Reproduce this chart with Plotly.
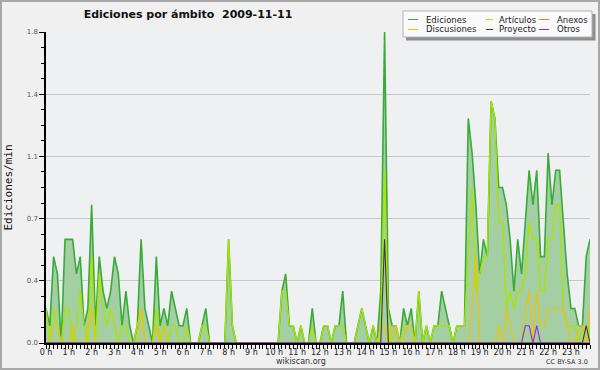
import plotly.graph_objects as go

# 10-minute slots over the day (6 per hour), values in edits/min
hour_labels = [f"{h} h" for h in range(24)]
slots = list(range(144))

ediciones = [
    0.2, 0.1, 0.5, 0.4, 0.0, 0.6,   # 0 h
    0.6, 0.6, 0.4, 0.5, 0.1, 0.2,   # 1 h
    0.8, 0.1, 0.5, 0.3, 0.2, 0.3,   # 2 h
    0.5, 0.4, 0.1, 0.3, 0.1, 0.0,   # 3 h
    0.1, 0.6, 0.2, 0.1, 0.0, 0.5,   # 4 h
    0.1, 0.2, 0.1, 0.3, 0.2, 0.1,   # 5 h
    0.1, 0.2, 0.0, 0.0, 0.0, 0.1,   # 6 h
    0.2, 0.0, 0.0, 0.0, 0.0, 0.0,   # 7 h
    0.6, 0.1, 0.0, 0.0, 0.0, 0.0,   # 8 h
    0.0, 0.0, 0.0, 0.0, 0.0, 0.0,   # 9 h
    0.0, 0.0, 0.3, 0.4, 0.1, 0.1,   # 10 h
    0.0, 0.1, 0.0, 0.0, 0.2, 0.0,   # 11 h
    0.0, 0.1, 0.1, 0.0, 0.1, 0.1,   # 12 h
    0.3, 0.0, 0.0, 0.0, 0.1, 0.2,   # 13 h
    0.1, 0.0, 0.1, 0.0, 0.3, 1.8,   # 14 h
    0.2, 0.1, 0.1, 0.0, 0.2, 0.1,   # 15 h
    0.2, 0.0, 0.3, 0.0, 0.1, 0.0,   # 16 h
    0.1, 0.1, 0.3, 0.2, 0.1, 0.0,   # 17 h
    0.1, 0.1, 0.1, 1.3, 1.1, 0.8,   # 18 h
    0.4, 0.6, 0.5, 1.4, 1.3, 0.9,   # 19 h
    0.9, 0.8, 0.6, 0.3, 0.6, 0.4,   # 20 h
    0.7, 1.0, 0.8, 1.0, 0.5, 0.5,   # 21 h
    1.1, 0.8, 1.0, 1.0, 0.7, 0.4,   # 22 h
    0.2, 0.2, 0.1, 0.1, 0.5, 0.6,   # 23 h
]

articulos = [
    0.2, 0.0, 0.2, 0.1, 0.0, 0.2,
    0.2, 0.0, 0.1, 0.3, 0.1, 0.0,
    0.5, 0.0, 0.4, 0.2, 0.1, 0.2,
    0.1, 0.0, 0.1, 0.1, 0.0, 0.0,
    0.1, 0.2, 0.0, 0.0, 0.0, 0.2,
    0.0, 0.1, 0.0, 0.1, 0.1, 0.0,
    0.0, 0.1, 0.0, 0.0, 0.0, 0.1,
    0.1, 0.0, 0.0, 0.0, 0.0, 0.0,
    0.6, 0.1, 0.0, 0.0, 0.0, 0.0,
    0.0, 0.0, 0.0, 0.0, 0.0, 0.0,
    0.0, 0.0, 0.3, 0.3, 0.1, 0.1,
    0.0, 0.1, 0.0, 0.0, 0.1, 0.0,
    0.0, 0.1, 0.1, 0.0, 0.1, 0.1,
    0.1, 0.0, 0.0, 0.0, 0.1, 0.2,
    0.1, 0.0, 0.1, 0.0, 0.1, 1.0,
    0.1, 0.0, 0.1, 0.0, 0.1, 0.1,
    0.1, 0.0, 0.3, 0.0, 0.1, 0.0,
    0.1, 0.1, 0.1, 0.1, 0.1, 0.0,
    0.1, 0.1, 0.1, 0.5, 0.9, 0.3,
    0.4, 0.5, 0.5, 1.4, 1.3, 0.7,
    0.7, 0.2, 0.3, 0.2, 0.3, 0.3,
    0.4, 0.7, 0.6, 0.6, 0.3, 0.3,
    0.6, 0.6, 0.8, 0.8, 0.2, 0.1,
    0.1, 0.1, 0.0, 0.1, 0.0, 0.1,
]

anexos = [0.0] * 144

discusiones = [
    0.0, 0.0, 0.1, 0.1, 0.0, 0.0,
    0.0, 0.1, 0.0, 0.0, 0.0, 0.1,
    0.2, 0.0, 0.0, 0.0, 0.0, 0.0,
    0.0, 0.0, 0.0, 0.0, 0.0, 0.0,
    0.0, 0.2, 0.0, 0.0, 0.0, 0.1,
    0.0, 0.1, 0.0, 0.0, 0.0, 0.0,
    0.0, 0.0, 0.0, 0.0, 0.0, 0.0,
    0.0, 0.0, 0.0, 0.0, 0.0, 0.0,
    0.0, 0.0, 0.0, 0.0, 0.0, 0.0,
    0.0, 0.0, 0.0, 0.0, 0.0, 0.0,
    0.0, 0.0, 0.0, 0.0, 0.0, 0.0,
    0.0, 0.0, 0.0, 0.0, 0.0, 0.0,
    0.0, 0.0, 0.0, 0.0, 0.0, 0.0,
    0.0, 0.0, 0.0, 0.0, 0.0, 0.0,
    0.0, 0.0, 0.0, 0.0, 0.1, 0.1,
    0.0, 0.1, 0.1, 0.0, 0.0, 0.1,
    0.1, 0.0, 0.0, 0.0, 0.0, 0.0,
    0.0, 0.0, 0.0, 0.0, 0.0, 0.0,
    0.0, 0.0, 0.0, 0.0, 0.2, 0.5,
    0.0, 0.0, 0.0, 0.0, 0.0, 0.1,
    0.0, 0.2, 0.1, 0.0, 0.0, 0.0,
    0.2, 0.3, 0.0, 0.3, 0.1, 0.1,
    0.2, 0.2, 0.2, 0.2, 0.2, 0.1,
    0.0, 0.0, 0.1, 0.1, 0.0, 0.2,
]

proyecto = [0.0] * 89 + [0.6] + [0.0] * 52 + [0.1, 0.0]

otros = [0.0] * 126 + [0.1, 0.1, 0.0, 0.1] + [0.0] * 14

series = [
    # name, values, colour, line width (drawing order)
    ("Ediciones", ediciones, "#3aaa3a", 1.6),
    ("Anexos", anexos, "#ff7733", 1.0),
    ("Artículos", articulos, "#aae400", 1.3),
    ("Discusiones", discusiones, "#f2c200", 1.1),
    ("Proyecto", proyecto, "#3c3c3c", 1.1),
    ("Otros", otros, "#8a2be2", 1.1),
]
legend_order = ["Ediciones", "Artículos", "Anexos", "Discusiones", "Proyecto", "Otros"]
colors = {name: c for name, _, c, _ in series}

FONT = "DejaVu Sans"

fig = go.Figure()
for name, vals, color, width in series:
    kw = {}
    if name == "Ediciones":
        kw = dict(fill="tozeroy", fillcolor="#a3cfa3")
    fig.add_trace(go.Scatter(
        x=slots, y=vals, mode="lines", name=name,
        line=dict(color=color, width=width), showlegend=False, **kw))

# geometry helpers (pixels -> paper) for decorations
ML, MR, MT, MB = 46, 10, 32, 27
PW, PH = 600 - ML - MR, 370 - MT - MB
def px(x):
    return (x - ML) / PW
def py(y):
    return (370 - MB - y) / PH

shapes = []
annotations = []
# outer border
shapes.append(dict(type="rect", xref="paper", yref="paper", x0=px(1), x1=px(599),
                   y0=py(369), y1=py(1), line=dict(color="#a8a8a8", width=2), layer="above"))
# legend shadow and box
shapes.append(dict(type="rect", xref="paper", yref="paper", x0=px(406), x1=px(595.5),
                   y0=py(40.5), y1=py(14), fillcolor="#8e8e8e", line=dict(width=0), layer="above"))
shapes.append(dict(type="rect", xref="paper", yref="paper", x0=px(403), x1=px(592),
                   y0=py(37), y1=py(11), fillcolor="#fafafa",
                   line=dict(color="#b4b4b4", width=1), layer="above"))
col_line = [(408, 418), (486, 493), (539, 549)]
col_text = [424, 497, 555]
row_y = [19.5, 29.5]
for k, name in enumerate(legend_order):
    r, c = divmod(k, 3)
    shapes.append(dict(type="line", xref="paper", yref="paper",
                       x0=px(col_line[c][0]), x1=px(col_line[c][1]),
                       y0=py(row_y[r]), y1=py(row_y[r]),
                       line=dict(color=colors[name], width=1), layer="above"))
    annotations.append(dict(text=name, xref="paper", yref="paper", x=px(col_text[c]),
                            y=py(row_y[r]), xanchor="left", yanchor="middle", showarrow=False,
                            font=dict(family=FONT, size=8.5, color="#222")))

annotations.append(dict(text="wikiscan.org", xref="paper", yref="paper", x=px(301), y=py(361),
                        xanchor="center", yanchor="middle", showarrow=False,
                        font=dict(family=FONT, size=8, color="#333")))
annotations.append(dict(text="CC BY-SA 3.0", xref="paper", yref="paper", x=px(590), y=py(362),
                        xanchor="right", yanchor="middle", showarrow=False,
                        font=dict(family=FONT, size=6.5, color="#333")))

fig.update_layout(
    width=600, height=370,
    margin=dict(l=ML, r=MR, t=MT, b=MB, autoexpand=False),
    paper_bgcolor="#f0f0f0", plot_bgcolor="#eff0f2",
    title=dict(text="<b>Ediciones por ámbito\u00a0\u00a02009-11-11</b>",
               x=188 / 600, xanchor="center", xref="container",
               y=1 - 14 / 370, yanchor="middle", yref="container",
               font=dict(family=FONT, size=11, color="#111")),
    shapes=shapes, annotations=annotations,
    showlegend=False,
    xaxis=dict(
        range=[0, 143], tickmode="array", automargin=False,
        tickvals=[h * 6 for h in range(24)], ticktext=hour_labels,
        ticks="outside", ticklen=4, tickwidth=1, tickcolor="#000",
        minor=dict(dtick=1, tick0=0, ticks="outside", ticklen=4, tickwidth=1,
                   tickcolor="#000", showgrid=False),
        showline=True, linecolor="#000", linewidth=1.5,
        showgrid=False, zeroline=False, ticklabelstandoff=-3,
        tickfont=dict(family=FONT, size=8, color="#222"),
    ),
    yaxis=dict(
        range=[0, 1.8], tickmode="linear", tick0=0, dtick=0.36, tickformat=".1f",
        automargin=False,
        ticks="outside", ticklen=5, tickwidth=1, tickcolor="#000",
        minor=dict(dtick=0.09, tick0=0, ticks="outside", ticklen=3, tickwidth=1,
                   tickcolor="#000", showgrid=False),
        showline=True, linecolor="#000", linewidth=1.5,
        showgrid=True, gridcolor="#c8c8c8", gridwidth=1, zeroline=False,
        tickfont=dict(family=FONT, size=7, color="#555"),
        title=dict(text="Ediciones/min", standoff=12,
                   font=dict(family="DejaVu Sans Mono", size=11, color="#111")),
    ),
)

fig.write_html("out.html", config={"displayModeBar": False},
               post_script="document.body.style.margin='0';document.body.style.padding='0';")
